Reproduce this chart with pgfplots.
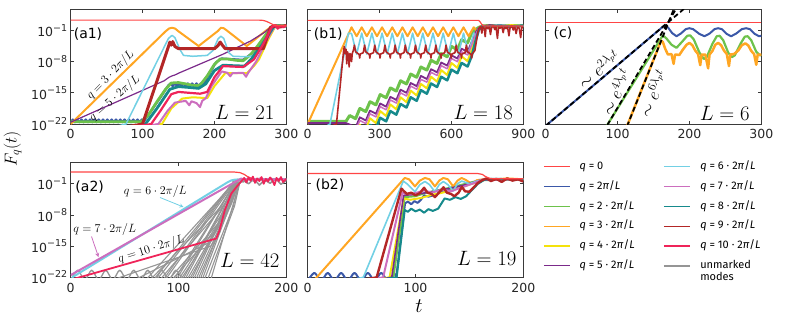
\documentclass[border=0pt]{standalone}
\usepackage{fontspec}
\setmainfont{DejaVu Sans}
\newfontfamily\legfont{Fira Sans}
\usepackage{pgfplots}
\usepackage{pgfplotstable}
\pgfplotsset{compat=1.18}

\definecolor{cq0}{HTML}{FF4545}
\definecolor{cq1}{HTML}{3B58A8}
\definecolor{cq2}{HTML}{6DC24B}
\definecolor{cq3}{HTML}{FFA623}
\definecolor{cq4}{HTML}{F4E20C}
\definecolor{cq5}{HTML}{7B2A8A}
\definecolor{cq6}{HTML}{72D0E4}
\definecolor{cq7}{HTML}{CC6EBE}
\definecolor{cq8}{HTML}{168A8C}
\definecolor{cq9}{HTML}{B32626}
\definecolor{cq10}{HTML}{EF2459}
\definecolor{cgr}{HTML}{959595}
\definecolor{frm}{HTML}{3A3A3A}

\newcommand\fs[1]{\fontsize{#1}{#1}\selectfont}
\newcommand\sci[1]{10\raisebox{0.45em}{\fs{9.5}−#1}}

\pgfplotsset{
  panel/.style={
    scale only axis, width=215.6pt, height=114.5pt,
    xmin=0, ymin=-22, ymax=3.7,
    ytick={-22,-15,-8,-1}, yticklabels={},
    tick align=inside, major tick length=3.5pt,
    axis line style={frm, line width=0.8pt},
    tick style={frm, line width=0.7pt},
    ticklabel style={font=\fs{12.5}, text=black!85},
    /pgf/number format/assume math mode=true,
    xticklabel style={yshift=-2pt},
    no markers, anchor=south west,
    every axis plot/.append style={line join=round},
  },
  ylab/.style={yticklabels={\sci{22},\sci{15},\sci{8},\sci{1}}},
  gl/.style={cgr, line width=1.1pt},
}

% panel (b1): the slowly growing bundle of modes
\pgfplotstableread{
t gr pu ma ye te
0 -21.4 -21.8 -23 -23 -24
160 -21.4 -21.8 -23 -23 -24
175 -20.1 -22.1 -22.8 -23.8 -25.3
200 -20.8 -22.8 -23.5 -24.9 -26.1
217.5 -18.5 -20.5 -21.2 -22.2 -23.7
242.5 -19.2 -21.2 -21.9 -23.3 -24.5
260 -17.0 -19.0 -19.7 -20.7 -22.2
285 -17.7 -19.7 -20.4 -21.8 -23.0
302.5 -15.4 -17.4 -18.1 -19.1 -20.6
327.5 -16.1 -18.1 -18.8 -20.2 -21.4
345 -13.9 -15.9 -16.6 -17.6 -19.1
370 -14.6 -16.6 -17.3 -18.7 -19.9
387.5 -12.3 -14.3 -15.0 -16.0 -17.5
412.5 -13.0 -15.0 -15.7 -17.1 -18.3
430 -10.8 -12.8 -13.5 -14.5 -16.0
455 -11.5 -13.5 -14.2 -15.6 -16.8
472.5 -9.2 -11.2 -12.0 -13.0 -14.4
497.5 -9.9 -11.9 -12.6 -14.0 -15.2
515 -7.7 -9.7 -10.4 -11.4 -12.9
540 -8.4 -10.4 -11.1 -12.5 -13.7
557.5 -6.2 -8.2 -8.9 -9.9 -11.4
582.5 -6.9 -8.9 -9.6 -11.0 -12.2
600 -4.6 -6.6 -7.3 -8.3 -9.8
625 -5.3 -7.3 -8.0 -9.4 -10.6
642.5 -3.1 -5.1 -5.8 -6.8 -8.3
667.5 -3.8 -5.8 -6.5 -7.9 -9.1
685 -1.5 -3.5 -4.2 -5.2 -6.7
700 -0.8 -1.5 -2.0 -2.5 -3.5
715 -0.3 -0.4 -0.5 -0.6 -0.8
730 0.0 -0.1 0.1 -0.2 0.0
760 0.1 0.2 -0.2 0.1 -0.1
800 -0.1 0.0 0.2 -0.1 0.1
850 0.1 -0.2 0.0 0.2 -0.1
900 0.0 0.1 -0.1 0.0 0.1
}\bclust

\begin{document}
\begin{tikzpicture}
\useasboundingbox (0pt,0pt) rectangle (793pt,-325pt);

% ---------------- (a1) L = 21
\begin{axis}[panel, ylab, at={(70.7pt,-124pt)}, xmax=300, xtick={0,100,200,300}]
\addplot[cq1, line width=2.2pt] coordinates {(0,-21.6)(3,-21.0)(6,-21.6)(9,-21.0)(12,-21.6)(15,-21.0)(18,-21.6)(21,-21.0)(24,-21.6)(27,-21.0)(30,-21.6)(33,-21.0)(36,-21.6)(39,-21.0)(42,-21.6)(45,-21.0)(48,-21.6)(51,-21.0)(54,-21.6)(57,-21.0)(60,-21.6)(63,-21.0)(66,-21.6)(69,-21.0)(72,-21.6)(75,-21.0)(78,-21.6)(81,-21.0)(84,-21.6)(87,-21.0)(90,-21.6)(93,-21.0)(96,-21.6)(99,-21.0)(102,-21.4)(110,-19.5)(125,-16)(136,-13.3)(139,-12.9)(142,-13.5)(145,-12.9)(148,-13.5)(151,-12.9)(154,-13.5)(157,-12.9)(160,-13.5)(163,-12.9)(166,-13.5)(169,-12.9)(172,-13.5)(175,-12.9)(178,-13.5)(181,-12.9)(184,-13.4)(192,-11)(202,-8.2)(210,-7.3)(240,-7.6)(255,-5.8)(268,-2.8)(280,-0.1)(290,0.1)(300,0)};
\addplot[cq2, line width=2.8pt] coordinates {(0,-21.5)(98,-21.5)(108,-20)(120,-17)(132,-14.2)(140,-12.8)(150,-12.7)(160,-13.0)(172,-13.4)(180,-13.3)(190,-11.2)(200,-8.6)(208,-7.4)(218,-7.4)(230,-7.7)(240,-7.8)(250,-6.5)(260,-4.5)(270,-2.3)(280,-0.1)(290,0.1)(300,0)};
\addplot[cq3, line width=2pt] coordinates {(0,-22)(132,-1.2)(137,-0.55)(141,-0.4)(145,-0.55)(150,-1.2)(178,-4.5)(205,-1.1)(209,-0.4)(213,-0.5)(218,-1.1)(245,-4.5)(272,-1.0)(279,-0.2)(285,0.1)(292,-0.1)(300,0.1)};
\addplot[cq4, line width=2pt] coordinates {(0,-25)(127,-22)(140,-18.5)(155,-16.3)(170,-16.0)(190,-16.2)(200,-13.5)(215,-10.6)(245,-10.6)(255,-9)(262,-7.5)(275,-3)(285,0)(300,0.1)};
\addplot[cq5, line width=1.2pt] coordinates {(0,-21.6)(130,-12.3)(137,-11.5)(141,-11.2)(145,-11.0)(150,-10.6)(211,-6.4)(250,-3.4)(270,-1.4)(281,0.1)(290,0)(300,0.1)};
\addplot[cq6, line width=1.5pt] coordinates {(0,-25)(77,-22)(136,-2.8)(141,-2.1)(145,-2.6)(152,-5.3)(157,-6.6)(170,-6.8)(190,-6.6)(198,-5.5)(205,-2.9)(209,-2.3)(213,-2.8)(220,-6.0)(226,-6.8)(245,-6.9)(258,-6.6)(268,-4.5)(278,-1.5)(285,-0.2)(300,0.1)};
\addplot[cq7, line width=2pt] coordinates {(0,-25)(122,-22)(135,-19)(145,-17.2)(160,-16.8)(165,-17.8)(168,-16.9)(175,-17.3)(180,-18.2)(183,-16.8)(188,-16.2)(196,-13.5)(210,-10.2)(218,-10.5)(222,-11.3)(225,-10.6)(240,-10.5)(244,-11.4)(247,-10.5)(258,-8)(272,-3.5)(284,0)(300,0)};
\addplot[cq8, line width=2.8pt] coordinates {(0,-25)(104,-22)(120,-18.5)(138,-14.2)(150,-13.6)(165,-13.8)(178,-14.0)(188,-13)(200,-10)(212,-8.8)(225,-8.9)(242,-9.0)(252,-7.3)(265,-4.5)(275,-2)(283,0)(300,0)};
\addplot[cq9, line width=3pt] coordinates {(0,-25)(100,-22)(136,-4.6)(138,-3.6)(140,-4.3)(142,-3.5)(145,-4.6)(150,-5.1)(200,-5.1)(205,-4.4)(208,-3.6)(211,-4.3)(215,-5.1)(268,-5.1)(278,-0.3)(285,0)(292,-0.2)(300,0.1)};
\addplot[cq10, line width=2.2pt] coordinates {(0,-25)(112,-22)(125,-19)(140,-15.3)(150,-14.8)(165,-15.0)(180,-15.2)(190,-14.8)(200,-11.5)(212,-9.0)(225,-9.1)(240,-9.2)(255,-7.5)(268,-4)(280,-0.2)(285,0.2)(288,-0.6)(292,0.1)(296,-0.3)(300,0.2)};
\addplot[cq0, line width=1.2pt] coordinates {(0,1.32)(262,1.32)(268,1.25)(273,1.0)(278,0.6)(283,0.2)(288,0.05)(295,0.1)(300,0.0)};
\end{axis}

% ---------------- (b1) L = 18
\begin{axis}[panel, at={(307.7pt,-124pt)}, xmax=900, xtick={0,300,600,900}]
\addplot[cq2, line width=3pt] table[x=t, y=gr] {\bclust};
\addplot[cq3, line width=2pt] coordinates {(0,-22)(183,-0.3)(204.25,-2.3)(225.5,-0.3)(246.75,-2.3)(268,-0.3)(289.25,-2.3)(310.5,-0.3)(331.75,-2.3)(353,-0.3)(374.25,-2.3)(395.5,-0.3)(416.75,-2.3)(438,-0.3)(459.25,-2.3)(480.5,-0.3)(501.75,-2.3)(523,-0.3)(544.25,-2.3)(565.5,-0.3)(586.75,-2.3)(608,-0.3)(629.25,-2.3)(650.5,-0.3)(671.75,-2.3)(693,-0.3)(708,-1.2)(720,-0.1)(740,0.1)(800,-0.1)(900,0)};
\addplot[cq4, line width=2pt] table[x=t, y=ye] {\bclust};
\addplot[cq5, line width=1.8pt] table[x=t, y=pu] {\bclust};
\addplot[cq6, line width=1.6pt] coordinates {(0,-25)(93,-22)(170,-1.6)(183,-1.7)(204.25,-6.3)(225.5,-1.6)(246.75,-6.3)(268,-1.6)(289.25,-6.3)(310.5,-1.6)(331.75,-6.3)(353,-1.6)(374.25,-6.3)(395.5,-1.6)(416.75,-6.3)(438,-1.6)(459.25,-6.3)(480.5,-1.6)(501.75,-6.3)(523,-1.6)(544.25,-6.3)(565.5,-1.6)(586.75,-6.3)(608,-1.6)(629.25,-6.3)(650.5,-1.6)(671.75,-6.3)(693,-1.6)(705,-3.0)(716,-0.5)(730,0)(900,0)};
\addplot[cq7, line width=1.5pt] table[x=t, y=ma] {\bclust};
\addplot[cq8, line width=2.5pt] table[x=t, y=te] {\bclust};
\addplot[cq9, line width=1.6pt] coordinates {(0,-25)(120,-22)(150,-5.5)(153,-4.6)(156,-6.2)(160,-5.2)(163,-8.5)(166,-5.8)(170,-6.5)(173,-9.2)(176,-6.2)(180,-6.4)(183,-8.0)(186,-6.2)(192,-5.2)
(195,-4.3)(200,-5.8)(215,-6.4)(217,-7.2)(219,-6.3)(232,-6.0)
(237.5,-4.3)(242.5,-5.8)(257.5,-6.4)(259.5,-7.2)(261.5,-6.3)(274.5,-6.0)
(280,-4.3)(285,-5.8)(300,-6.4)(302,-7.2)(304,-6.3)(317,-6.0)
(322.5,-4.3)(327.5,-5.8)(342.5,-6.4)(344.5,-7.2)(346.5,-6.3)(359.5,-6.0)
(365,-4.3)(370,-5.8)(385,-6.4)(387,-7.2)(389,-6.3)(402,-6.0)
(407.5,-4.3)(412.5,-5.8)(427.5,-6.4)(429.5,-7.2)(431.5,-6.3)(444.5,-6.0)
(450,-4.3)(455,-5.8)(470,-6.4)(472,-7.2)(474,-6.3)(487,-6.0)
(492.5,-4.3)(497.5,-5.8)(512.5,-6.4)(514.5,-7.2)(516.5,-6.3)(529.5,-6.0)
(535,-4.3)(540,-5.8)(555,-6.4)(557,-7.2)(559,-6.3)(572,-6.0)
(577.5,-4.3)(582.5,-5.8)(597.5,-6.4)(599.5,-7.2)(601.5,-6.3)(614.5,-6.0)
(620,-4.3)(625,-5.8)(640,-6.4)(642,-7.2)(644,-6.3)(657,-6.0)
(662.5,-4.3)(667.5,-5.8)(682.5,-6.4)(684.5,-7.2)(686.5,-6.3)
(698,-5.5)(704,-3.5)(710,-1.5)(716,-0.4)(722,-0.1)(727,-1.6)(731,-0.2)(737,-0.5)(741,-2.4)(745,-0.1)(752,-0.6)(758,-0.2)(763,-1.9)(768,-0.3)(775,0.1)(781,-0.8)(786,-0.1)(792,-2.8)(797,-0.2)(803,-0.5)(810,0)(816,-1.5)(821,-0.2)(828,-0.6)(834,-0.1)(840,-2.2)(845,-0.3)(852,0.1)(858,-0.9)(864,-0.1)(870,-1.7)(876,-0.2)(883,-0.5)(889,-2.6)(894,-0.2)(900,-0.4)};
\addplot[cq0, line width=1.2pt] coordinates {(0,1.26)(714,1.26)(720,0.9)(726,0.4)(732,0.1)(740,0.0)(900,0.0)};
\end{axis}

% ---------------- (c) L = 6
\begin{axis}[panel, at={(545.7pt,-124pt)}, xmax=300, xtick={0,100,200,300}]
\addplot[cq0, line width=1.2pt] coordinates {(0,0.78)(300,0.78)};
\addplot[cq1, line width=2pt] coordinates {(0,-22.4)(165,0.1)(170,-0.3)(176,-1.6)(182,-2.3)(188,-1.7)(195,-0.7)(200,-0.5)(205,-0.7)(214,-1.8)(221,-2.3)(228,-1.7)(235,-0.7)(240,-0.5)(245,-0.7)(252,-1.8)(258,-2.3)(265,-1.7)(273,-0.7)(279,-0.5)(284,-0.7)(291,-1.8)(297,-2.3)(300,-2.2)};
\addplot[cq2, line width=2.2pt] coordinates {(80,-23.7)(86.5,-22)(163,-2.1)(168,-2.8)(175,-4.2)(182,-4.9)(190,-3.5)(197,-2.2)(201,-2.1)(206,-3.0)(214,-6.0)(220,-7.4)(224,-7.0)(232,-4.0)(238,-2.3)(242,-2.2)(247,-3.2)(254,-6.0)(259,-7.0)(263,-6.6)(271,-4.0)(277,-2.4)(281,-2.3)(286,-3.2)(293,-5.8)(298,-6.6)(300,-6.5)};
\addplot[cq3, line width=2.5pt] coordinates {(109,-24)(114.3,-22)(160.6,-3.3)(163,-3.6)(166,-5.0)(170,-6.4)(175,-6.3)(178,-8.5)(180,-6.4)(186,-6.5)(190,-5.5)(196,-4.2)(200,-3.8)(204,-4.3)(208,-5.5)(212,-6.3)(215,-8.8)(217,-6.4)(222,-6.4)(226,-9.5)(228,-6.4)(232,-5.6)(236,-4.2)(240,-3.8)(244,-4.3)(248,-5.5)(252,-6.3)(255,-9.0)(257,-6.4)(262,-6.3)(268,-5.5)(273,-4.3)(278,-3.9)(282,-4.4)(286,-5.6)(290,-6.3)(293,-8.7)(295,-6.4)(300,-6.4)};
\addplot[black, line width=1.8pt, dash pattern=on 5pt off 3pt] coordinates {(0,-22.4)(195,4.2)};
\addplot[black, line width=1.8pt, dash pattern=on 5pt off 3pt] coordinates {(80,-23.8)(182,4.0)};
\addplot[black, line width=1.8pt, dash pattern=on 5pt off 3pt] coordinates {(109,-24.2)(180,4.5)};
\end{axis}

% ---------------- (a2) L = 42
\begin{axis}[panel, ylab, at={(70.7pt,-277.3pt)}, xmax=200, xtick={0,100,200}]
\addplot[cgr, line width=1.3pt, smooth, tension=0.5] coordinates {(0,-22.6)(6.5,-20.4)(13,-22.6)(19.5,-20.4)(26,-22.6)(32.5,-20.4)(39,-22.6)(45.5,-20.4)(52,-22.6)(58.5,-20.4)(65,-22.6)(71.5,-20.4)(78,-22.6)(84.5,-20.4)(91,-22.6)(97.5,-20.4)(104,-22.6)};
\addplot[gl] coordinates {(60,-22.5)(130,-14)(150,-1.5)(155,-0.6)};
\addplot[gl] coordinates {(70,-22.5)(150,-1.2)(154,-0.6)};
\addplot[gl] coordinates {(74,-22.5)(140,-6)(151,-1.0)};
\addplot[gl] coordinates {(77,-22.5)(150,-0.9)};
\addplot[gl] coordinates {(80,-22.5)(151,-0.8)};
\addplot[gl] coordinates {(83,-22.5)(145,-5)(152,-0.9)};
\addplot[gl] coordinates {(86,-22.5)(151,-0.6)};
\addplot[gl] coordinates {(88,-22.5)(152,-0.7)};
\addplot[gl] coordinates {(91,-22.5)(140,-9)(152,-0.8)};
\addplot[gl] coordinates {(94,-22.5)(140,-10)(150,-2.5)(154,-0.8)};
\addplot[gl] coordinates {(96,-22.5)(153,-0.6)};
\addplot[gl] coordinates {(98,-22.5)(153,-0.6)};
\addplot[gl] coordinates {(100,-22.5)(145,-6)(154,-0.7)};
\addplot[gl] coordinates {(102,-22.5)(145,-7)(154,-0.8)};
\addplot[gl] coordinates {(104,-22.5)(154,-0.5)};
\addplot[gl] coordinates {(106,-22.5)(154,-0.5)};
\addplot[gl] coordinates {(108,-22.5)(147,-6)(155,-0.6)};
\addplot[gl] coordinates {(110,-22.5)(148,-6)(155,-0.7)};
\addplot[gl] coordinates {(112,-22.5)(155,-0.6)};
\addplot[gl] coordinates {(114,-22.5)(155,-0.6)};
\addplot[gl] coordinates {(116,-22.5)(149,-5)(155,-0.6)};
\addplot[gl] coordinates {(118,-22.5)(150,-5)(156,-0.7)};
\addplot[gl] coordinates {(120,-22.5)(156,-0.5)};
\addplot[gl] coordinates {(122,-22.5)(156,-0.5)};
\addplot[gl] coordinates {(124,-22.5)(151,-6)(156,-0.6)};
\addplot[gl] coordinates {(127,-22.5)(152,-6)(157,-0.6)};
\addplot[gl] coordinates {(130,-22.5)(157,-0.5)};
\addplot[gl] coordinates {(40,-22.5)(130,-15)(138,-12)(150,-2)(155,-0.7)};
\addplot[cgr, line width=1.6pt] coordinates {(150,-0.5)(155,0)(160,-0.6)(165,0.3)(170,-0.4)(175,0.2)(180,-0.5)(185,0.3)(190,-0.3)(195,0.2)(200,-0.2)};
\addplot[cgr, line width=1.6pt] coordinates {(155,-1.2)(160,-0.2)(165,-1.0)(170,0.1)(175,-1.3)(180,-0.1)(185,-0.9)(190,0.2)(195,-1.1)(200,-0.3)};
\addplot[cq0, line width=1.2pt] coordinates {(0,1.62)(152,1.62)(157,1.5)(161,1.1)(164,0.6)(168,0.2)(172,0.05)(200,0.05)};
\addplot[cq6, line width=2pt] coordinates {(0,-23)(2.1,-21.9)(146,-0.6)(149,-0.25)(152,-0.1)(156,-0.1)(160,0)(200,0)};
\addplot[cq7, line width=2pt] coordinates {(0,-21.5)(158,0.15)(162,0)(200,0)};
\addplot[cq10, line width=1.8pt] coordinates {(0,-22.5)(5.3,-22.2)(135,-13.3)(138,-11.5)(143,-6.9)(149,-3.2)(155,-1.35)(158,-0.5)(161,0.3)(163,-0.7)(165,0.4)(167,-0.3)(169,0.6)(171,-0.8)(173,0.2)(175,-0.4)(177,0.5)(179,-1.0)(181,0.1)(183,-0.5)(185,0.4)(187,-0.2)(189,-1.3)(191,0.3)(193,-0.4)(195,0.5)(197,-0.6)(200,0.1)};
\end{axis}

% ---------------- (b2) L = 19
\begin{axis}[panel, at={(307.7pt,-277.3pt)}, xmax=200, xtick={0,100,200}]
\addplot[cq1, line width=2pt, smooth, tension=0.5] coordinates {(0,-22.8)(6.2,-21.0)(12.4,-22.8)(18.6,-21.0)(24.8,-22.8)(31,-21.0)(37.2,-22.8)(43.4,-21.0)(49.6,-22.8)(55.8,-21.0)(62,-22.8)(68.2,-21.0)(74.4,-22.8)(80.6,-21.2)(83,-22.8)};
\addplot[cq1, line width=2pt] coordinates {(82,-22.2)(90.3,-5.4)(93,-5.0)(96,-5.6)(99,-4.9)(102,-5.3)(105,-4.6)(108,-3.6)(112,-3.9)(118,-3.5)(125,-2.6)(132,-2.4)(140,-1.6)(150,-1.0)(160,-0.3)(165,0)(200,0)};
\addplot[cq2, line width=2pt] coordinates {(0,-25)(79.5,-22)(90,-4.0)(100,-3.8)(110,-3.0)(120,-2.5)(130,-2.0)(140,-1.4)(150,-0.8)(160,-0.2)(200,0)};
\addplot[cq3, line width=2pt] coordinates {(0,-24)(8.4,-22)(90,0.3)(94,0)(99.5,-1.6)(104,-0.3)(108.8,0.3)(113,0)(118,-1.6)(122,-0.3)(125.8,0.3)(130,0)(135,-1.6)(139,-0.3)(142.8,0.3)(147,-0.2)(152,-1.0)(157,-0.2)(165,0.1)(175,0)(185,0.2)(200,0)};
\addplot[cq4, line width=2pt] coordinates {(0,-25)(76,-22)(89,-4.3)(95,-4.6)(105,-4.2)(115,-3.5)(125,-3.0)(140,-2.0)(155,-0.8)(165,0)(200,0)};
\addplot[cq5, line width=1.6pt] coordinates {(0,-25)(78,-22)(89,-3.6)(100,-3.4)(115,-2.8)(130,-2.1)(145,-1.3)(160,-0.2)(200,0)};
\addplot[cq6, line width=1.6pt] coordinates {(0,-25)(51.6,-22)(88.7,-0.4)(92,-1.0)(99.5,-2.8)(104,-1.2)(108.8,-0.5)(113,-1.2)(118,-2.8)(122,-1.2)(125.8,-0.5)(130,-1.2)(135,-2.6)(139,-1.0)(142.8,-0.4)(150,-1.0)(157,-0.4)(165,0)(200,0)};
\addplot[cq7, line width=2pt] coordinates {(0,-25)(70,-22)(88,-3.0)(92,-3.3)(100,-3.1)(108,-2.5)(115,-3.0)(125,-2.3)(133,-2.7)(143,-1.8)(155,-0.8)(163,0)(200,0)};
\addplot[cq8, line width=2pt] coordinates {(0,-25)(82.5,-22)(90,-6.9)(93,-7.3)(96,-6.6)(100,-7.2)(104,-6.8)(108,-7.5)(112,-6.7)(116,-7.1)(121,-6.6)(127,-4.3)(132,-4.6)(137,-4.0)(142,-4.4)(147,-3.8)(152,-2.5)(158,-1.0)(164,-0.1)(170,0.1)(200,0)};
\addplot[cq9, line width=2.4pt] coordinates {(0,-25)(64,-22)(87,-2.1)(89,-2.6)(92,-3.3)(96,-3.0)(100,-3.6)(104,-3.1)(108,-1.9)(111,-3.0)(115,-3.3)(118,-4.0)(121,-3.2)(126,-1.8)(129,-3.0)(133,-3.3)(136,-3.8)(140,-3.0)(143,-1.7)(146,-2.7)(150,-2.8)(154,-1.8)(158,-0.8)(162,-0.2)(166,0.2)(170,-0.4)(175,0.1)(180,-0.6)(185,0.2)(190,-0.3)(195,0)(200,-0.5)};
\addplot[cq0, line width=1.2pt] coordinates {(0,1.28)(158,1.28)(162,1.1)(165,0.6)(169,0.2)(173,0.1)(200,0.1)};
\end{axis}

% ---------------- legend
\begin{axis}[hide axis, scale only axis, width=5pt, height=5pt,
  xmin=0, xmax=1, ymin=0, ymax=1,
  at={(543pt,-161.5pt)}, anchor=north west,
  legend columns=2, legend cell align=left,
  legend style={at={(0,1)}, anchor=north west, draw=none, fill=none, inner sep=0pt,
    font=\legfont\fontsize{11}{13}\selectfont,
    nodes={inner sep=0pt, text height=7.8pt, text depth=2.4pt},
    /tikz/every odd column/.append style={column sep=9pt},
    /tikz/every even column/.append style={column sep=28pt},
    row sep=9.6pt},
  legend image code/.code={\draw[#1] (0pt,0pt) -- (26pt,0pt);}]
\addlegendimage{cq0, line width=1.3pt}\addlegendentry{\textit{q} = 0}
\addlegendimage{cq6, line width=1.3pt}\addlegendentry{\textit{q} = 6 · 2\textit{π}/\textit{L}}
\addlegendimage{cq1, line width=1.3pt}\addlegendentry{\textit{q} = 2\textit{π}/\textit{L}}
\addlegendimage{cq7, line width=1.3pt}\addlegendentry{\textit{q} = 7 · 2\textit{π}/\textit{L}}
\addlegendimage{cq2, line width=1.3pt}\addlegendentry{\textit{q} = 2 · 2\textit{π}/\textit{L}}
\addlegendimage{cq8, line width=1.3pt}\addlegendentry{\textit{q} = 8 · 2\textit{π}/\textit{L}}
\addlegendimage{cq3, line width=1.3pt}\addlegendentry{\textit{q} = 3 · 2\textit{π}/\textit{L}}
\addlegendimage{cq9, line width=1.3pt}\addlegendentry{\textit{q} = 9 · 2\textit{π}/\textit{L}}
\addlegendimage{cq4, line width=1.3pt}\addlegendentry{\textit{q} = 4 · 2\textit{π}/\textit{L}}
\addlegendimage{cq10, line width=1.3pt}\addlegendentry{\textit{q} = 10 · 2\textit{π}/\textit{L}}
\addlegendimage{cq5, line width=1.3pt}\addlegendentry{\textit{q} = 5 · 2\textit{π}/\textit{L}}
\addlegendimage{cgr, line width=2.6pt}\addlegendentry{\begin{tabular}[t]{@{}l@{}}unmarked\\[-1pt]modes\end{tabular}}
\end{axis}

% ---------------- texts
\node at (88pt,-34pt) {\fs{14}(a1)};
\node at (328.3pt,-34.3pt) {\fs{14}(b1)};
\node at (563pt,-33.3pt) {\fs{14}(c)};
\node at (89.7pt,-186.7pt) {\fs{14}(a2)};
\node at (330pt,-185pt) {\fs{14}(b2)};

\node at (244.7pt,-112.3pt) {\fs{22}$L=21$};
\node at (483.3pt,-112.3pt) {\fs{22}$L=18$};
\node at (724.7pt,-113.3pt) {\fs{22}$L=6$};
\node at (249.7pt,-260pt) {\fs{22}$L=42$};
\node at (486.7pt,-258.3pt) {\fs{22}$L=19$};

\node[rotate=46] at (110.5pt,-75pt) {\fs{12.5}$q=3\cdot 2\pi/L$};
\node[rotate=41] at (114.7pt,-98.3pt) {\fs{12.5}$q=5\cdot 2\pi/L$};
\node at (155.3pt,-191.7pt) {\fs{12.5}$q=6\cdot 2\pi/L$};
\node at (104.7pt,-229.3pt) {\fs{12.5}$q=7\cdot 2\pi/L$};
\node[rotate=17.5] at (151.3pt,-249.3pt) {\fs{12.5}$q=10\cdot 2\pi/L$};
\draw[cq6, line width=0.8pt, -stealth] (160pt,-197.5pt) -- (183.5pt,-207pt);
\draw[cq7, line width=0.8pt, -stealth] (91.5pt,-236.5pt) -- (98.5pt,-257pt);

\node[rotate=38] at (598.5pt,-68.5pt) {\fs{17}$\sim e^{2\lambda_p t}$};
\node[rotate=64] at (615.5pt,-92pt) {\fs{17}$\sim e^{4\lambda_p t}$};
\node[rotate=66] at (652.5pt,-93pt) {\fs{17}$\sim e^{6\lambda_p t}$};

\node[rotate=90] at (12.5pt,-149pt) {\fs{17}$F_q(t)$};
\node at (419pt,-306pt) {\fs{20}$t$};
\end{tikzpicture}
\end{document}
